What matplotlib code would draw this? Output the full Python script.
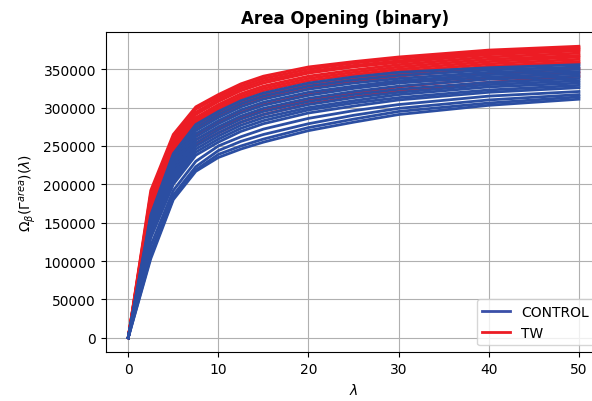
import numpy as np
import matplotlib
matplotlib.use("Agg")
import matplotlib.pyplot as plt
from matplotlib.lines import Line2D

# lambda values where the curves are sampled
lambdas = [0, 2.5, 5, 7.5, 10, 12.5, 15, 20, 25, 30, 40, 50]

# CONTROL curves (values in thousands)
control_curves = [
    [0, 160, 240, 278, 295, 309, 319, 332, 340, 346, 352, 356],
    [0, 157, 236, 274, 291, 305, 315, 328, 336, 342, 349, 353],
    [0, 154, 232, 270, 287, 301, 311, 324, 332, 338, 346, 350],
    [0, 151, 228, 266, 283, 297, 307, 320, 328, 335, 343, 347],
    [0, 148, 224, 262, 279, 293, 303, 316, 325, 332, 340, 344],
    [0, 145, 220, 258, 275, 289, 299, 312, 321, 328, 337, 341],
    [0, 142, 216, 254, 271, 285, 295, 308, 317, 324, 333, 338],
    [0, 139, 212, 250, 267, 281, 291, 304, 313, 320, 330, 335],
    [0, 136, 208, 246, 263, 277, 287, 300, 309, 317, 327, 332],
    [0, 133, 204, 242, 259, 273, 283, 297, 306, 313, 323, 329],
    [0, 130, 200, 238, 255, 269, 279, 293, 302, 310, 320, 326],
    [0, 120, 192, 230, 250, 262, 272, 286, 296, 304, 315, 321],
    [0, 112, 186, 223, 244, 256, 265, 279, 290, 299, 310, 317],
    [0, 106, 182, 219, 239, 250, 259, 274, 285, 295, 306, 314],
    [0, 103, 180, 217, 235, 246, 255, 270, 281, 291, 303, 311],
]

# TW curves hidden inside the CONTROL band
tw_curves_low = [
    [0, 160, 230, 265, 281, 294, 304, 317, 326, 333, 344, 351],
    [0, 156, 224, 258, 274, 287, 297, 310, 319, 327, 338, 346],
    [0, 150, 217, 251, 267, 281, 291, 305, 314, 322, 333, 341],
]

# TW curves forming the upper band
tw_curves = [
    [0, 192, 265, 301, 317, 331, 341, 353, 360, 366, 375, 380],
    [0, 188, 262, 298, 314, 328, 338, 350, 358, 364, 373, 378],
    [0, 185, 258, 294, 311, 325, 335, 347, 355, 361, 371, 376],
    [0, 182, 255, 291, 308, 322, 332, 345, 353, 359, 369, 374],
    [0, 178, 251, 287, 304, 318, 328, 341, 349, 356, 366, 371],
    [0, 175, 248, 284, 301, 315, 325, 338, 346, 353, 363, 368],
    [0, 172, 245, 281, 298, 312, 322, 335, 343, 350, 360, 366],
    [0, 170, 242, 278, 294, 308, 318, 331, 340, 347, 357, 363],
    [0, 167, 239, 275, 291, 305, 315, 328, 337, 344, 354, 360],
    [0, 165, 236, 272, 288, 302, 312, 325, 334, 341, 351, 358],
]

BLUE = "#2b4ea2"
RED = "#ec1c24"

fig = plt.figure(figsize=(5.92, 4.02), dpi=100)
# the right edge of the axes runs past the figure, as in the cropped original
ax = fig.add_axes([0.1785, 0.1211, 0.8375, 0.7976])
ax.spines["right"].set_visible(False)

for c in tw_curves_low:
    ax.plot(lambdas, np.array(c) * 1000, color=RED, lw=2)
for c in tw_curves:
    ax.plot(lambdas, np.array(c) * 1000, color=RED, lw=2)
for c in control_curves:
    ax.plot(lambdas, np.array(c) * 1000, color=BLUE, lw=2)

ax.set_title("Area Opening (binary)", fontweight="bold", fontsize=12, x=0.482)
ax.set_xlabel(r"$\lambda$")
ax.set_ylabel(r"$\Omega_\beta(\Gamma^{area})(\lambda)$")
ax.grid(True)

handles = [Line2D([], [], color="#3a4fa8", lw=2),
           Line2D([], [], color=RED, lw=2)]
ax.legend(handles, ["CONTROL", "TW"], loc="lower right")

fig.savefig("out.png", dpi=100)
